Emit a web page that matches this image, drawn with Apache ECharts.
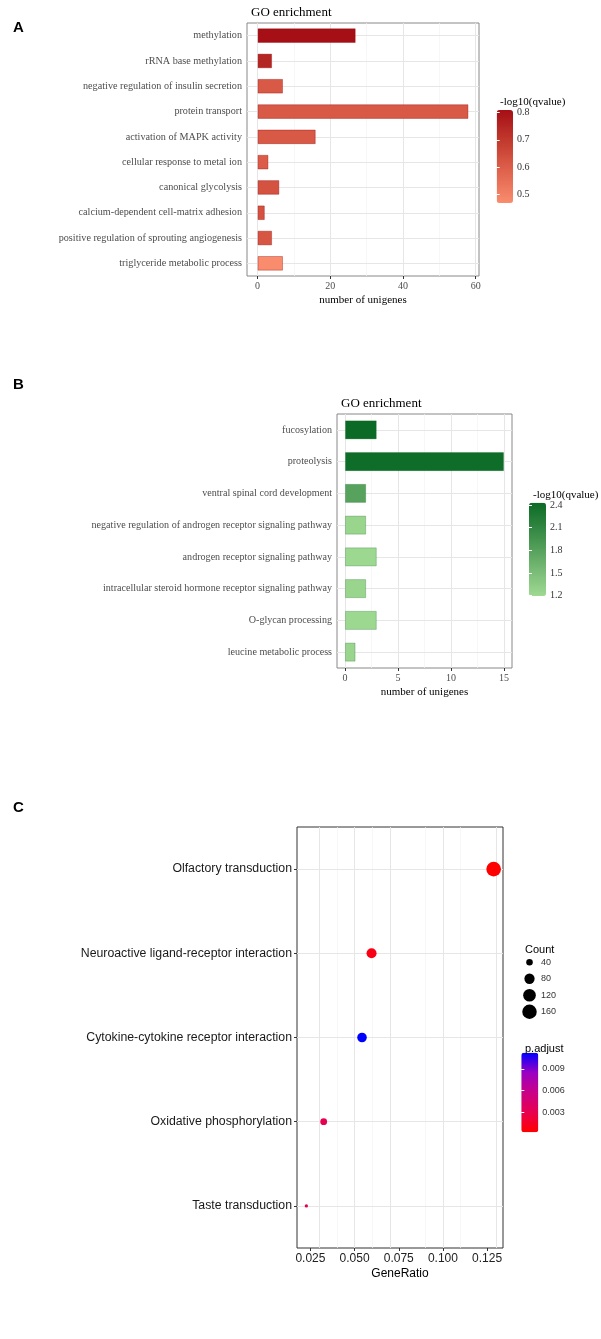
<!DOCTYPE html>
<html><head><meta charset="utf-8">
<script src="https://cdn.jsdelivr.net/npm/echarts@6/dist/echarts.min.js"></script>
<style>html,body{margin:0;padding:0;background:#fff}#c{width:601px;height:1339px}</style>
</head><body><div id="c"></div>
<script>
// ---------- data ----------
const aTerms = ['methylation','rRNA base methylation','negative regulation of insulin secretion','protein transport','activation of MAPK activity','cellular response to metal ion','canonical glycolysis','calcium-dependent cell-matrix adhesion','positive regulation of sprouting angiogenesis','triglyceride metabolic process'];
const aCounts = [27,4,7,58,16,3,6,2,4,7];
const aQ = [0.81,0.75,0.61,0.61,0.61,0.60,0.63,0.63,0.62,0.47];
const aXTicks = [0,20,40,60];
const aXMinor = [10,30,50];
const aLegTicks = [0.5,0.6,0.7,0.8];

const bTerms = ['fucosylation','proteolysis','ventral spinal cord development','negative regulation of androgen receptor signaling pathway','androgen receptor signaling pathway','intracellular steroid hormone receptor signaling pathway','O-glycan processing','leucine metabolic process'];
const bCounts = [3,15,2,2,3,2,3,1];
const bQ = [2.43,2.40,1.80,1.24,1.21,1.24,1.21,1.24];
const bXTicks = [0,5,10,15];
const bXMinor = [2.5,7.5,12.5];
const bLegTicks = [1.2,1.5,1.8,2.1,2.4];

const cTerms = ['Olfactory transduction','Neuroactive ligand-receptor interaction','Cytokine-cytokine receptor interaction','Oxidative phosphorylation','Taste transduction'];
const cRatio = [0.1287,0.0596,0.0542,0.0325,0.0227];
const cCount = [165,76,70,42,29];
const cPadj = [0.0003,0.0010,0.0112,0.0031,0.0033];
const cXTicks = [0.025,0.05,0.075,0.1,0.125];
const cXMinor = [0.0375,0.0625,0.0875,0.1125];
const countLegend = [40,80,120,160];
const cLegTicks = [0.003,0.006,0.009];

// ---------- helpers ----------
const SERIF = 'Liberation Serif';
const SANS = 'Liberation Sans';
function expandBar(max){ return [-0.05*max, 1.05*max]; }
function expandCont(mn,mx){ const r = mx-mn; return [mn-0.05*r, mx+0.05*r]; }
const aRange = expandBar(Math.max(...aCounts));
const bRange = expandBar(Math.max(...bCounts));
const cRange = expandCont(Math.min(...cRatio), Math.max(...cRatio));
const cMin = Math.min(...cCount), cMax = Math.max(...cCount);
function sizeFn(c){ const t = Math.max(0,(c-cMin)/(cMax-cMin)); return 3.3 + (14.7-3.3)*Math.sqrt(t); }

function gridLines(major, minor, n){
  const d = [];
  major.forEach(v => d.push({xAxis: v, lineStyle:{color:'#e6e6e6', width:1}}));
  minor.forEach(v => d.push({xAxis: v, lineStyle:{color:'#f3f3f3', width:0.7}}));
  for (let i=0;i<n;i++) d.push({yAxis: i, lineStyle:{color:'#e6e6e6', width:1}});
  return {silent:true, symbol:'none', z:1, animation:false, label:{show:false}, lineStyle:{type:'solid'}, data:d};
}

function valueAxis(grid, range, ticks, name, font, fmt, gap, lsize, nsize){
  return {type:'value', gridIndex:grid, min:range[0], max:range[1],
    splitLine:{show:false}, axisLine:{show:false},
    axisTick:{show:true, customValues:ticks, length:3, lineStyle:{color:'#333'}},
    axisLabel:{customValues:ticks, margin:5, color:font===SANS?'#222':'#4d4d4d', fontFamily:font, fontSize:lsize, formatter:fmt},
    name:name, nameLocation:'middle', nameGap:gap, nameTextStyle:{color:'#000', fontFamily:font, fontSize:nsize}};
}
function catAxis(grid, terms, font, size, color){
  return {type:'category', gridIndex:grid, data:terms, inverse:true,
    axisLine:{show:false}, splitLine:{show:false},
    axisTick:{show:true, alignWithLabel:true, length:3, lineStyle:{color:'#333'}},
    axisLabel:{margin:5, color:color, fontFamily:font, fontSize:size, interval:0}};
}
function barAxisPair(grid, range, ticks, fmt, font){
  return [
    {type:'value', gridIndex:grid, position:'right', min:range[0], max:range[1], z:6,
      axisLine:{show:false}, splitLine:{show:false},
      axisTick:{show:true, inside:true, customValues:ticks, length:3, lineStyle:{color:'#fff', width:1}},
      axisLabel:{customValues:ticks, margin:4, color:'#333', fontFamily:font, fontSize:font===SANS?9:10, formatter:fmt}},
    {type:'value', gridIndex:grid, position:'left', min:range[0], max:range[1], z:6,
      axisLine:{show:false}, splitLine:{show:false},
      axisTick:{show:true, inside:true, customValues:ticks, length:3, lineStyle:{color:'#fff', width:1}},
      axisLabel:{show:false}}
  ];
}

// layout
const L = {
  a:{left:247, top:23, width:232, height:253},
  aBar:{left:496.7, top:110, width:16.3, height:93},
  b:{left:337, top:414, width:175, height:254},
  bBar:{left:529, top:502.7, width:17, height:93.3},
  c:{left:297, top:827, width:206, height:421},
  cBar:{left:521.3, top:1052.7, width:17, height:79.6},
  cnt:{left:522, top:954, width:15, height:66}
};
const aLeg = [0.467, 0.81];
const bLeg = [1.195, 2.43];
const cLeg = [0.0003, 0.0112];

function g(o, show, border){ return Object.assign({show:!!show, borderColor:border||'#888', borderWidth:1, backgroundColor:'transparent', containLabel:false, outerBoundsMode:'none'}, o); }

const option = {
  animation:false,
  backgroundColor:'#fff',
  title:[
    {text:'A', left:8, top:15, textStyle:{fontFamily:SANS, fontWeight:'bold', fontSize:15, color:'#000'}},
    {text:'GO enrichment', left:246, top:1, textStyle:{fontFamily:SERIF, fontWeight:'normal', fontSize:13, color:'#000'}},
    {text:'-log10(qvalue)', left:495, top:92, textStyle:{fontFamily:SERIF, fontWeight:'normal', fontSize:11, color:'#000'}},
    {text:'B', left:8, top:372, textStyle:{fontFamily:SANS, fontWeight:'bold', fontSize:15, color:'#000'}},
    {text:'GO enrichment', left:336, top:392, textStyle:{fontFamily:SERIF, fontWeight:'normal', fontSize:13, color:'#000'}},
    {text:'-log10(qvalue)', left:528, top:485, textStyle:{fontFamily:SERIF, fontWeight:'normal', fontSize:11, color:'#000'}},
    {text:'C', left:8, top:795, textStyle:{fontFamily:SANS, fontWeight:'bold', fontSize:15, color:'#000'}},
    {text:'Count', left:520, top:939, textStyle:{fontFamily:SANS, fontWeight:'normal', fontSize:11, color:'#000'}},
    {text:'p.adjust', left:520, top:1038, textStyle:{fontFamily:SANS, fontWeight:'normal', fontSize:11, color:'#000'}}
  ],
  grid:[
    g(L.a, true, '#888'),
    g(L.b, true, '#888'),
    g(L.c, true, '#333'),
    g(L.aBar), g(L.bBar), g(L.cBar), g(L.cnt)
  ],
  xAxis:[
    valueAxis(0, aRange, aXTicks, 'number of unigenes', SERIF, v=>String(v), 19, 10, 11),
    valueAxis(1, bRange, bXTicks, 'number of unigenes', SERIF, v=>String(v), 19, 10, 11),
    valueAxis(2, cRange, cXTicks, 'GeneRatio', SANS, v=>v.toFixed(3), 20, 12, 12),
    {type:'value', gridIndex:3, show:false, min:0, max:1},
    {type:'value', gridIndex:4, show:false, min:0, max:1},
    {type:'value', gridIndex:5, show:false, min:0, max:1},
    {type:'value', gridIndex:6, show:false, min:0, max:1}
  ],
  yAxis:[
    catAxis(0, aTerms, SERIF, 10.2, '#4d4d4d'),
    catAxis(1, bTerms, SERIF, 10.1, '#4d4d4d'),
    catAxis(2, cTerms, SANS, 12.3, '#1a1a1a'),
    ...barAxisPair(3, aLeg, aLegTicks, v=>v.toFixed(1), SERIF),
    ...barAxisPair(4, bLeg, bLegTicks, v=>v.toFixed(1), SERIF),
    ...barAxisPair(5, cLeg, cLegTicks, v=>v.toFixed(3), SANS),
    {type:'category', gridIndex:6, data:countLegend.map(String), inverse:true, position:'right',
      axisLine:{show:false}, axisTick:{show:false}, splitLine:{show:false},
      axisLabel:{margin:4, color:'#333', fontFamily:SANS, fontSize:9}}
  ],
  visualMap:[
    {type:'continuous', seriesIndex:0, dimension:2, min:aLeg[0], max:aLeg[1], calculable:false, show:true,
      left:L.aBar.left, top:L.aBar.top, itemWidth:L.aBar.width, itemHeight:L.aBar.height, padding:0, text:null, showLabel:false,
      inRange:{color:['#f98d6d','#e0644e','#c23a2e','#a50f15']}},
    {type:'continuous', seriesIndex:1, dimension:2, min:bLeg[0], max:bLeg[1], calculable:false, show:true,
      left:L.bBar.left, top:L.bBar.top, itemWidth:L.bBar.width, itemHeight:L.bBar.height, padding:0, text:null, showLabel:false,
      inRange:{color:['#9fd992','#6fb46f','#3b8d48','#0b6b26']}},
    {type:'continuous', seriesIndex:2, dimension:3, min:cLeg[0], max:cLeg[1], calculable:false, show:true,
      left:L.cBar.left, top:L.cBar.top, itemWidth:L.cBar.width, itemHeight:L.cBar.height, padding:0, text:null, showLabel:false,
      inRange:{color:['#ff0000','#e7004f','#c90088','#9a00c3','#0000ff']}}
  ],
  series:[
    {type:'bar', xAxisIndex:0, yAxisIndex:0, z:3, barWidth:'58%', encode:{x:0, y:1},
      itemStyle:{borderColor:'rgba(150,0,0,0.35)', borderWidth:1},
      data:aTerms.map((t,i)=>[aCounts[i], t, aQ[i]]),
      markLine:gridLines(aXTicks, aXMinor, aTerms.length)},
    {type:'bar', xAxisIndex:1, yAxisIndex:1, z:3, barWidth:'60%', encode:{x:0, y:1},
      itemStyle:{borderColor:'rgba(0,90,20,0.25)', borderWidth:1},
      data:bTerms.map((t,i)=>[bCounts[i], t, bQ[i]]),
      markLine:gridLines(bXTicks, bXMinor, bTerms.length)},
    {type:'scatter', xAxisIndex:2, yAxisIndex:2, z:3, encode:{x:0, y:1},
      symbolSize:d=>sizeFn(d[2]), itemStyle:{opacity:1},
      data:cTerms.map((t,i)=>[cRatio[i], t, cCount[i], cPadj[i]]),
      markLine:gridLines(cXTicks, cXMinor, cTerms.length)},
    {type:'scatter', xAxisIndex:6, yAxisIndex:9, z:3, encode:{x:0, y:1},
      symbolSize:d=>sizeFn(d[2]), itemStyle:{color:'#000', opacity:1},
      data:countLegend.map(c=>[0.5, String(c), c])}
  ]
};
const chart = echarts.init(document.getElementById('c'), null, {renderer:'canvas'});
chart.setOption(option);
</script></body></html>
